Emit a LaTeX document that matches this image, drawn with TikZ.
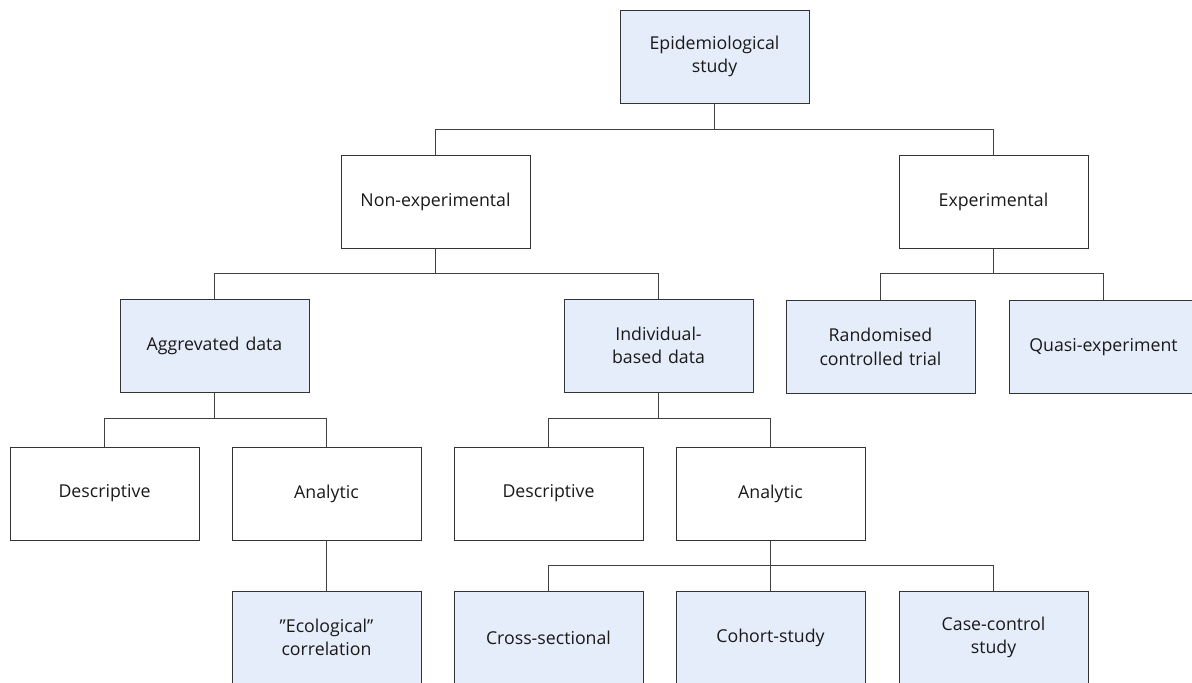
\documentclass[tikz,border=0pt]{standalone}
\usepackage{fontspec}
\setmainfont{Open Sans}
\begin{document}
\begin{tikzpicture}[x=0.75pt,y=-0.75pt,
  box/.style={draw=black!80,line width=0.75pt,minimum width=141.75pt,minimum height=69.75pt,inner sep=0pt,align=center,text width=138pt,font=\fontsize{13.3}{17.6}\selectfont,text=black!90},
  blue/.style={box,fill=bluefill},
  conn/.style={draw=black!75,line width=0.75pt}]
\definecolor{bluefill}{HTML}{E6EDFA}
\useasboundingbox (0,0) rectangle (1192,682);
\clip (0,0) rectangle (1192,682);
\node[blue] (epi) at (714.5,56.5) {Epidemiological\\study};
\node[box] (nonexp) at (435.5,201.5) {Non-experimental};
\node[box] (exp) at (993.5,201.5) {Experimental};
\node[blue] (agg) at (214.5,345.5) {Aggrevated data};
\node[blue] (ind) at (658.5,345.5) {Individual-\\based data};
\node[blue] (rct) at (880.5,347) {Randomised\\controlled trial};
\node[blue] (quasi) at (1103.5,347) {Quasi-experiment};
\node[box] (desc1) at (104.5,493.5) {Descriptive};
\node[box] (ana1) at (326.5,493.5) {Analytic};
\node[box] (desc2) at (548.5,493.5) {Descriptive};
\node[box] (ana2) at (770.5,493.5) {Analytic};
\node[blue] (eco) at (326.5,637.5) {”Ecological”\\correlation};
\node[blue] (cross) at (548.5,637.5) {Cross-sectional};
\node[blue] (cohort) at (770.5,637.5) {Cohort-study};
\node[blue] (case) at (993.5,637.5) {Case-control\\study};
\draw[conn] (epi.south) -- ++(0,26) -| (nonexp.north);
\draw[conn] (epi.south) -- ++(0,26) -| (exp.north);
\draw[conn] (nonexp.south) -- ++(0,25) -| (agg.north);
\draw[conn] (nonexp.south) -- ++(0,25) -| (ind.north);
\draw[conn] (exp.south) -- ++(0,25) -| (rct.north);
\draw[conn] (exp.south) -- ++(0,25) -| (quasi.north);
\draw[conn] (agg.south) -- ++(0,26) -| (desc1.north);
\draw[conn] (agg.south) -- ++(0,26) -| (ana1.north);
\draw[conn] (ind.south) -- ++(0,26) -| (desc2.north);
\draw[conn] (ind.south) -- ++(0,26) -| (ana2.north);
\draw[conn] (ana1.south) -- (eco.north);
\draw[conn] (ana2.south) -- ++(0,25) -| (cross.north);
\draw[conn] (ana2.south) -- ++(0,25) -| (cohort.north);
\draw[conn] (ana2.south) -- ++(0,25) -| (case.north);
\end{tikzpicture}
\end{document}
